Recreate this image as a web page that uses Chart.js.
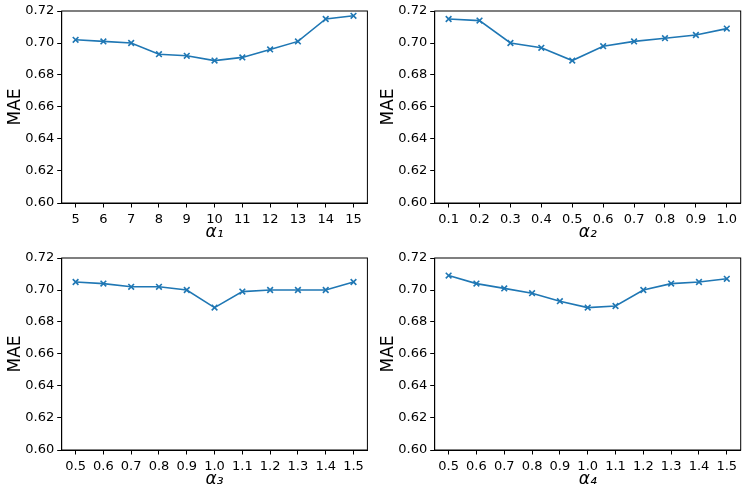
<!DOCTYPE html>
<html>
<head>
<meta charset="utf-8">
<script src="https://cdn.jsdelivr.net/npm/chart.js@4.4.1/dist/chart.umd.min.js"></script>
<style>
  html, body { margin: 0; padding: 0; background: #fff; }
  #wrap { position: relative; width: 747px; height: 496px; }
  .cell { position: absolute; }
</style>
</head>
<body>
<div id="wrap">
  <div class="cell" style="left:0;top:0;width:373px;height:243px"><canvas id="c1"></canvas></div>
  <div class="cell" style="left:373px;top:0;width:374px;height:243px"><canvas id="c2"></canvas></div>
  <div class="cell" style="left:0;top:240px;width:373px;height:250px"><canvas id="c3"></canvas></div>
  <div class="cell" style="left:373px;top:240px;width:374px;height:250px"><canvas id="c4"></canvas></div>
</div>
<script>
// x values for each parameter sweep
const alpha1 = [5, 6, 7, 8, 9, 10, 11, 12, 13, 14, 15];
const alpha2 = [0.1, 0.2, 0.3, 0.4, 0.5, 0.6, 0.7, 0.8, 0.9, 1.0];
const alpha3 = [0.5, 0.6, 0.7, 0.8, 0.9, 1.0, 1.1, 1.2, 1.3, 1.4, 1.5];
const alpha4 = [0.5, 0.6, 0.7, 0.8, 0.9, 1.0, 1.1, 1.2, 1.3, 1.4, 1.5];

// MAE values
const mae1 = [0.702, 0.701, 0.700, 0.693, 0.692, 0.689, 0.691, 0.696, 0.701, 0.715, 0.717];
const mae2 = [0.715, 0.714, 0.700, 0.697, 0.689, 0.698, 0.701, 0.703, 0.705, 0.709];
const mae3 = [0.705, 0.704, 0.702, 0.702, 0.700, 0.689, 0.699, 0.700, 0.700, 0.700, 0.705];
const mae4 = [0.709, 0.704, 0.701, 0.698, 0.693, 0.689, 0.690, 0.700, 0.704, 0.705, 0.707];

const xTitles = ["α₁", "α₂", "α₃", "α₄"];
const yTitle = "MAE";

const FONT = "'DejaVu Sans', sans-serif";
const BLUE = "#1f77b4";

// draws the matplotlib style box around the plot area
const frame = {
    id: "frame",
    afterDraw(chart) {
        const a = chart.chartArea;
        const ctx = chart.ctx;
        ctx.save();
        ctx.strokeStyle = "#000";
        ctx.lineWidth = 1;
        ctx.strokeRect(a.left, a.top, a.right - a.left, a.bottom - a.top);
        ctx.restore();
    }
};

function makePlot(id, xs, ys, xTitle, opts) {
    const step = xs[1] - xs[0];
    const pad = (xs[xs.length - 1] - xs[0]) * 0.05;
    const dec = Number.isInteger(step) ? 0 : 1;
    new Chart(document.getElementById(id), {
        type: "line",
        data: {
            datasets: [{
                data: xs.map((x, i) => ({ x: x, y: ys[i] })),
                borderColor: BLUE,
                backgroundColor: BLUE,
                borderWidth: 1.6,
                pointStyle: "crossRot",
                pointRadius: 4,
                pointBorderWidth: 1.6,
                pointBorderColor: BLUE,
                tension: 0,
                fill: false
            }]
        },
        options: {
            responsive: true,
            maintainAspectRatio: false,
            animation: false,
            layout: { padding: { top: opts.top, right: opts.right, left: 0, bottom: 0 } },
            plugins: { legend: { display: false }, tooltip: { enabled: false } },
            scales: {
                x: {
                    type: "linear",
                    min: xs[0] - pad,
                    max: xs[xs.length - 1] + pad,
                    afterBuildTicks: s => { s.ticks = xs.map(v => ({ value: v })); },
                    afterFit: s => { s.height = 40; },
                    grid: { display: true, drawOnChartArea: false, drawTicks: true, tickLength: 4.5, color: "#000" },
                    border: { display: true, color: "#000" },
                    ticks: {
                        color: "#000", padding: 4, maxRotation: 0, autoSkip: false,
                        font: { family: FONT, size: 13 },
                        callback: v => v.toFixed(dec)
                    },
                    title: {
                        display: true, text: xTitle, color: "#000",
                        font: { family: FONT, size: 17, style: "italic" },
                        padding: { top: 0, bottom: 0 }
                    }
                },
                y: {
                    min: 0.6,
                    max: 0.72,
                    afterFit: s => { s.width = 61.7; },
                    grid: { display: true, drawOnChartArea: false, drawTicks: true, tickLength: 4.5, color: "#000" },
                    border: { display: true, color: "#000" },
                    ticks: {
                        stepSize: 0.02, color: "#000", padding: 3,
                        font: { family: FONT, size: 13 },
                        callback: v => v.toFixed(2)
                    },
                    title: {
                        display: true, text: yTitle, color: "#000",
                        font: { family: FONT, size: 17 },
                        padding: { top: 5, bottom: 0 }
                    }
                }
            }
        },
        plugins: [frame]
    });
}

makePlot("c1", alpha1, mae1, xTitles[0], { top: 11, right: 4.7 });
makePlot("c2", alpha2, mae2, xTitles[1], { top: 11, right: 6.3 });
makePlot("c3", alpha3, mae3, xTitles[2], { top: 18, right: 4.7 });
makePlot("c4", alpha4, mae4, xTitles[3], { top: 18, right: 6.3 });
</script>
</body>
</html>
